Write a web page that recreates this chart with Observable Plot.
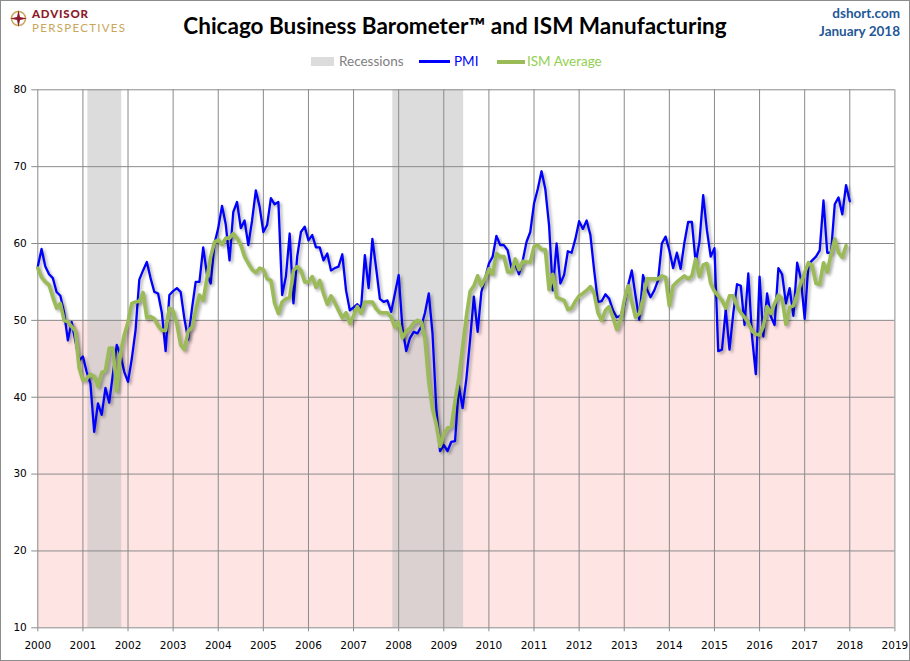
<!DOCTYPE html>
<html>
<head>
<meta charset="utf-8">
<script src="https://cdn.jsdelivr.net/npm/d3@7"></script>
<script src="https://cdn.jsdelivr.net/npm/@observablehq/plot@0.6"></script>
<style>
  body { margin: 0; background: #fff; }
  #wrap { position: relative; width: 910px; height: 661px; overflow: hidden; font-family: Lato, "Open Sans", sans-serif; background: #fff; }
  #frame { position: absolute; left: 0; top: 0; width: 908px; height: 659px; border: 1px solid #8c8c8c; pointer-events: none; z-index: 5; }
  .abs { position: absolute; white-space: nowrap; line-height: 1; }
  #chart { position: absolute; left: 0; top: 80px; }
</style>
</head>
<body>
<div id="wrap">
  <div id="frame"></div>
  <svg class="abs" style="left:9px;top:9px" width="20" height="20" viewBox="0 0 20 20">
    <circle cx="9.5" cy="9.5" r="7" fill="none" stroke="#c9a659" stroke-width="1.6"></circle>
    <path d="M9.5 1 L11 8 L18 9.5 L11 11 L9.5 18 L8 11 L1 9.5 L8 8 Z" fill="#8b1a2b"></path>
  </svg>
  <div class="abs" style="left:32px;top:7px;line-height:normal;font-size:11.5px;font-weight:900;color:#8b1a2b;letter-spacing:0.8px">ADVISOR</div>
  <div class="abs" style="left:32px;top:20.5px;line-height:normal;font-size:11.5px;font-weight:400;color:#c9a659;letter-spacing:1.3px">PERSPECTIVES</div>
  <div class="abs" id="title" style="left:0;width:910px;text-align:center;top:15px;font-size:22.5px;font-weight:700;color:#000">Chicago Business Barometer™ and ISM Manufacturing</div>
  <div class="abs" style="right:10px;top:7px;font-size:13.5px;font-weight:700;color:#1f5896;text-align:right">dshort.com</div>
  <div class="abs" style="right:10px;top:25px;font-size:13.5px;font-weight:700;color:#1f5896;text-align:right">January 2018</div>
  <div id="legend"></div>
  <div id="chart"></div>
</div>
<script>
// ---- data ----
const startYear = 2000;
const pmi = [
  57.0, 59.3, 57.0, 56.0, 55.5, 53.7, 53.2, 51.0, 47.4, 49.8, 47.3, 44.8,
  45.3, 43.3, 41.8, 35.5, 39.2, 37.7, 41.2, 39.3, 43.1, 46.8, 45.5, 43.3,
  42.0, 45.0, 48.7, 55.3, 56.5, 57.6, 55.5, 53.7, 53.5, 51.0, 46.0, 53.3,
  53.8, 54.2, 53.7, 50.2, 47.5, 51.5, 55.0, 55.0, 59.5, 56.0, 54.8, 60.0,
  62.0, 64.9, 62.5, 57.8, 64.1, 65.4, 62.0, 63.0, 59.8, 63.0, 66.9, 64.8,
  61.5, 62.4, 65.9, 65.1, 65.4, 53.3, 55.7, 61.3, 52.2, 58.3, 61.5, 62.2,
  60.4, 61.1, 59.5, 59.5, 57.8, 58.7, 56.5, 56.8, 57.0, 58.6, 53.9, 51.3,
  51.7, 52.1, 51.6, 58.5, 54.2, 60.6, 56.8, 52.8, 52.4, 52.6, 51.1, 53.5,
  55.9, 49.0, 46.0, 47.7, 48.5, 48.3, 49.2, 51.0, 53.5, 48.3, 38.6, 33.0,
  33.8, 33.0, 34.2, 34.3, 41.5, 38.6, 42.4, 47.5, 53.1, 48.5, 53.7, 55.5,
  57.4, 58.3, 61.0, 59.8, 59.8, 59.1, 56.8, 57.4, 56.0, 57.8, 60.2, 61.5,
  65.2, 67.1, 69.4, 67.1, 62.4, 53.9, 60.0, 54.8, 55.9, 59.0, 58.8, 60.6,
  62.9, 61.9, 63.0, 61.1, 56.5, 52.4, 52.5, 53.4, 52.8, 51.3, 50.4, 50.6,
  51.9, 54.5, 56.5, 53.2, 50.1, 55.9, 54.1, 53.0, 53.9, 55.2, 60.0, 60.9,
  59.1, 56.8, 58.8, 56.7, 60.1, 62.8, 62.8, 57.5, 60.2, 66.3, 61.7, 58.3,
  59.4, 46.0, 46.2, 51.4, 46.2, 50.9, 54.7, 54.5, 49.4, 56.1, 47.9, 43.0,
  55.7, 47.9, 53.5, 50.5, 49.4, 56.8, 56.0, 52.2, 54.2, 50.6, 57.5, 55.4,
  50.2, 57.3, 57.8, 58.3, 59.1, 65.6, 58.8, 58.8, 65.1, 66.0, 63.8, 67.6,
  65.5
];
const ismAverage = [
  56.8, 55.6, 55.0, 54.6, 53.0, 51.6, 52.2, 50.0, 49.8, 49.2, 48.6, 43.8,
  42.2, 42.4, 43.0, 42.7, 41.4, 43.2, 43.5, 46.4, 46.4, 40.8, 45.7, 48.1,
  49.8, 52.2, 52.4, 52.5, 53.6, 50.3, 50.5, 50.2, 49.3, 48.7, 48.7, 51.6,
  51.2, 49.5, 46.8, 46.2, 48.6, 49.1, 51.3, 53.3, 52.6, 55.5, 58.3, 60.2,
  60.5, 59.9, 60.7, 60.7, 61.3, 60.7, 59.8, 58.3, 57.4, 56.6, 56.2, 56.8,
  56.6, 55.4, 55.2, 52.2, 50.9, 52.4, 52.8, 53.0, 56.5, 57.0, 56.5, 55.0,
  55.0, 55.7, 54.3, 55.2, 53.5, 52.1, 53.2, 52.3, 51.3, 50.3, 51.0, 49.6,
  50.6, 51.8, 50.9, 52.4, 52.4, 52.4, 51.5, 51.0, 51.0, 51.0, 50.4, 49.1,
  49.8, 47.7, 48.6, 49.0, 49.7, 50.0, 49.8, 47.5, 42.0, 38.5, 36.5, 33.6,
  35.2, 36.0, 36.2, 39.5, 42.5, 46.5, 50.5, 53.8, 54.5, 55.8, 54.5, 55.5,
  56.7, 56.0, 58.7, 58.3, 58.3, 56.3, 56.3, 58.0, 56.6, 57.7, 57.6, 57.6,
  59.6, 59.8, 59.2, 59.2, 54.0, 56.0, 53.0, 52.8, 52.6, 51.4, 51.6, 52.5,
  53.2, 53.5, 53.9, 54.4, 53.5, 51.0, 50.0, 51.3, 51.8, 50.4, 48.8, 50.0,
  52.6, 54.5, 52.4, 50.4, 50.9, 52.8, 55.4, 55.4, 55.4, 55.4, 55.8, 55.6,
  51.9, 54.5, 55.0, 55.4, 55.8, 55.4, 55.8, 58.0, 55.7, 57.2, 57.4, 54.8,
  53.8, 53.2, 52.6, 51.6, 53.2, 53.2, 51.8, 51.0, 50.4, 49.7, 48.6, 48.2,
  48.1, 49.2, 51.8, 50.9, 52.2, 53.3, 52.8, 49.5, 51.7, 51.9, 53.4, 54.9,
  56.2, 57.5, 57.1, 54.8, 54.7, 57.5, 56.3, 58.6, 60.6, 58.8, 58.2, 59.7
];
const recessionStart = [2001.11, 2007.87];
const recessionEnd = [2001.86, 2009.44];
const contractionBand = [10, 50];   // below 50 = contraction (pink zone)
const xTicks = d3.range(2000, 2020);
const yTicks = [10, 20, 30, 40, 50, 60, 70, 80];
const legendItems = ["Recessions", "PMI", "ISM Average"];

// ---- derived tables ----
const toRows = arr => arr.map((v, i) => ({ t: startYear + i / 12, v }));
const pmiRows = toRows(pmi);
const ismRows = toRows(ismAverage);
const recessions = recessionStart.map((s, i) => ({ start: s, end: recessionEnd[i] }));
const band = [{ lo: contractionBand[0], hi: contractionBand[1] }];

const BLUE = "#0000ff", GREEN = "#9bbb59", GRID = "#8a8a8a";

const chart = Plot.plot({
  width: 910,
  height: 581,
  marginLeft: 37.3,
  marginRight: 15.6,
  marginTop: 9.3,
  marginBottom: 33.7,
  style: { fontFamily: "DejaVu Sans, Verdana, sans-serif", fontSize: "10.5px", color: "#000", background: "transparent" },
  x: { domain: [xTicks[0], xTicks[xTicks.length - 1]], ticks: xTicks, tickFormat: d3.format("d"), tickSize: 4, tickPadding: 10, label: null },
  y: { domain: [yTicks[0], yTicks[yTicks.length - 1]], ticks: yTicks, tickSize: 6, tickPadding: 5, label: null },
  marks: [
    Plot.rect(band, { x1: xTicks[0], x2: xTicks[xTicks.length - 1], y1: "lo", y2: "hi", fill: "#ffe4e4" }),
    Plot.rect(recessions, { x1: "start", x2: "end", y1: yTicks[0], y2: yTicks[yTicks.length - 1], fill: "#c2c2c2", fillOpacity: 0.58 }),
    Plot.gridX(xTicks, { stroke: GRID, strokeOpacity: 1, strokeWidth: 1 }),
    Plot.gridY(yTicks, { stroke: GRID, strokeOpacity: 1, strokeWidth: 1 }),
    Plot.line(pmiRows, { x: "t", y: "v", stroke: BLUE, strokeWidth: 2.3, strokeLinejoin: "round" }),
    Plot.line(ismRows, { x: "t", y: "v", stroke: GREEN, strokeWidth: 3.6, strokeLinejoin: "round" })
  ]
});
chart.querySelectorAll('g[aria-label="line"]').forEach(g => {
  g.style.filter = "drop-shadow(2px 2.5px 1.5px rgba(0,0,0,0.33))";
});
chart.querySelectorAll('g[aria-label="x-axis tick"] path, g[aria-label="y-axis tick"] path').forEach(p => p.setAttribute("stroke", GRID));
document.getElementById("chart").appendChild(chart);

// ---- legend ----
const lg = document.getElementById("legend");
const items = [
  { label: legendItems[0], kind: "rect", color: "#dcdcdc", text: "#808080", sx: 311, sw: 23, tx: 339 },
  { label: legendItems[1], kind: "line", color: BLUE, text: BLUE, sx: 419, sw: 31, tx: 454, lw: 3 },
  { label: legendItems[2], kind: "line", color: GREEN, text: "#92d050", sx: 497, sw: 28, tx: 527, lw: 4 }
];
items.forEach(it => {
  const sw = document.createElement("div");
  sw.className = "abs";
  sw.style.left = it.sx + "px";
  sw.style.width = it.sw + "px";
  sw.style.background = it.color;
  if (it.kind === "rect") { sw.style.top = "57px"; sw.style.height = "9px"; }
  else { sw.style.top = (61.5 - it.lw / 2) + "px"; sw.style.height = it.lw + "px"; }
  lg.appendChild(sw);
  const tx = document.createElement("div");
  tx.className = "abs";
  tx.style.left = it.tx + "px";
  tx.style.top = "54.5px";
  tx.style.fontSize = "13.5px";
  tx.style.color = it.text;
  tx.textContent = it.label;
  lg.appendChild(tx);
});
</script>
</body>
</html>
